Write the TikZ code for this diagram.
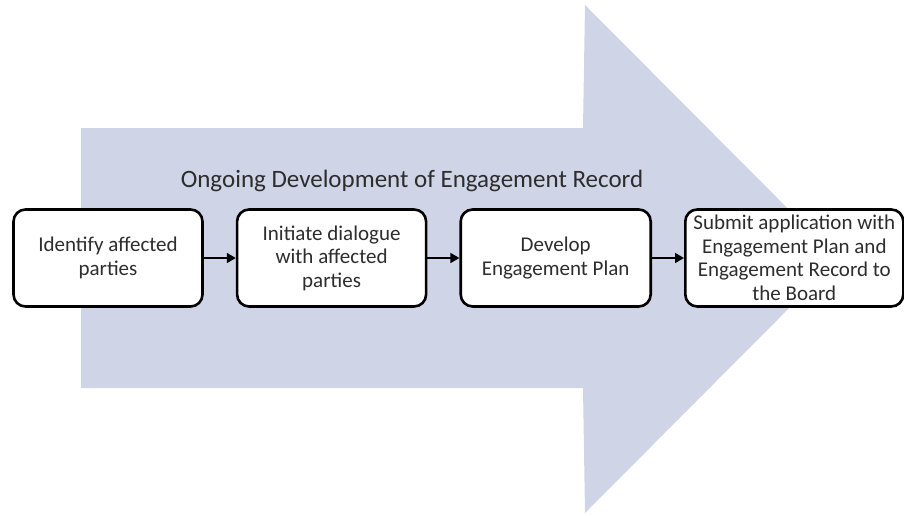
\documentclass[tikz,border=0pt]{standalone}
\usepackage{fontspec}
\setmainfont{Carlito}
\usepackage{xcolor}
\usetikzlibrary{positioning,arrows.meta}
\definecolor{arrowblue}{RGB}{207,213,231}
\definecolor{textgray}{RGB}{45,45,45}

\begin{document}
\begin{tikzpicture}[x=1pt,y=-1pt,
  stepbox/.style={draw=black,line width=2.6pt,rounded corners=12pt,fill=white,
    minimum height=97pt,align=center,text=textgray,font=\fontsize{21}{23.5}\selectfont},
  link/.style={-{Triangle[length=9pt,width=10pt]},line width=1.6pt}]
  \useasboundingbox (0,0) rectangle (904,516);
  % big background arrow
  \fill[arrowblue] (81,128) -- (583,128) -- (585,5) -- (838,259)
    -- (585,513) -- (583,388) -- (81,388) -- cycle;
  \node[text=textgray,font=\fontsize{25}{29}\selectfont] (title) at (412,181)
    {Ongoing Development of Engagement Record};
  % steps
  \node[stepbox,minimum width=189pt] (identify) at (108,258) {Identify affected\\parties};
  \node[stepbox,minimum width=189pt,right=32pt of identify] (initiate)
    {Initiate dialogue\\with affected\\parties};
  \node[stepbox,minimum width=190pt,right=32pt of initiate] (develop)
    {Develop\\Engagement Plan};
  \node[stepbox,minimum width=218pt,inner sep=2pt,right=32pt of develop] (submit)
    {Submit application with\\Engagement Plan and\\Engagement Record to\\the Board};
  \draw[link] (identify) -- (initiate);
  \draw[link] (initiate) -- (develop);
  \draw[link] (develop) -- (submit);
\end{tikzpicture}
\end{document}
